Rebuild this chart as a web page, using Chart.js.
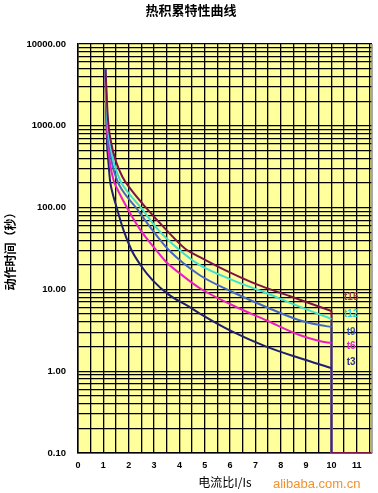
<!DOCTYPE html>
<html lang="zh">
<head>
  <meta charset="UTF-8">
  <title>热积累特性曲线</title>
  <script src="https://cdn.jsdelivr.net/npm/chart.js"></script>
  <style>
    html, body { margin: 0; padding: 0; background: #fff; }
    #wrap { width: 378px; height: 493px; position: relative; }
  </style>
</head>
<body>
  <div id="wrap"><canvas id="myChart"></canvas></div>

  <script>
    // curve names (trip classes)
    const curveNames = ['t15', 't12', 't9', 't6', 't3'];

    const t15X = [1.085, 1.176, 1.31, 1.507, 1.755, 2.071, 2.69, 3.491, 4.241, 4.793, 5.70, 7.03, 8.343, 10];
    const t15Y = [4900, 1282, 617, 361, 237, 169, 99, 53, 31.2, 24.9, 17.8, 11.6, 8.31, 5.45];

    const t12X = [1.085, 1.156, 1.262, 1.42, 1.657, 1.901, 2.493, 3.176, 4.004, 4.793, 6.095, 7.424, 8.738, 10];
    const t12Y = [4900, 1282, 617, 351, 217, 164, 99, 53, 30.3, 19.9, 13.0, 9.04, 6.15, 4.35];

    const t9X = [1.085, 1.144, 1.223, 1.341, 1.538, 1.744, 2.296, 2.939, 3.582, 4.793, 6.095, 7.424, 8.738, 9.527, 10];
    const t9Y = [4900, 1282, 617, 351, 217, 164, 99, 53, 30.3, 15.0, 9.3, 6.1, 4.2, 3.67, 3.47];

    const t6X = [1.085, 1.124, 1.183, 1.262, 1.40, 1.57, 1.941, 2.465, 3.085, 3.479, 4.004, 4.793, 6.095, 7.424, 8.738, 9.527, 10];
    const t6Y = [4900, 1282, 617, 351, 217, 164, 99, 53, 30.3, 21.6, 15.8, 10.4, 6.4, 4.2, 2.77, 2.34, 2.21];

    const t3X = [1.085, 1.116, 1.144, 1.203, 1.262, 1.333, 1.531, 1.795, 2.11, 2.465, 2.939, 3.61, 4.398, 4.793, 6.095, 7.424, 8.738, 10];
    const t3Y = [4900, 1282, 617, 351, 217, 164, 99, 53, 30.3, 19.9, 13.0, 8.5, 6.1, 5.1, 3.04, 2.0, 1.45, 1.09];

    const curveColors = ['#7d1248', '#3ee0d2', '#4568c8', '#ea1ec8', '#1e1e72'];
    const labelColors = ['#9a4040', '#33cccc', '#3858b8', '#dd22cc', '#333388'];
    // where the tN tags sit (value on the axes)
    const tagX = 10.78;
    const tagY = [8.1, 4.9, 2.96, 2.0, 1.27];

    // axes
    const xMin = 0, xMax = 11.6, xGridStep = 0.5;
    const xTickLabels = [0, 1, 2, 3, 4, 5, 6, 7, 8, 9, 10, 11];
    const yDecades = [0.1, 1, 10, 100, 1000, 10000];
    const cutoffX = 10;      // instantaneous trip
    const floorY = 0.1;

    const xs = [t15X, t12X, t9X, t6X, t3X];
    const ys = [t15Y, t12Y, t9Y, t6Y, t3Y];

    const datasets = [];
    curveNames.forEach((name, i) => {
      datasets.push({
        label: name,
        data: xs[i].map((x, k) => ({ x: x, y: ys[i][k] })),
        borderColor: curveColors[i],
        borderWidth: 2,
        pointRadius: 0,
        cubicInterpolationMode: 'monotone',
        fill: false
      });
    });
    curveNames.forEach((name, i) => {
      const last = ys[i][ys[i].length - 1];
      datasets.push({
        label: name + ' drop',
        data: [{ x: cutoffX, y: last }, { x: cutoffX, y: floorY }, { x: xMax, y: floorY }],
        borderColor: curveColors[i],
        borderWidth: 2,
        pointRadius: 0,
        tension: 0,
        fill: false
      });
    });

    const yGrid = [];
    yDecades.forEach(d => {
      for (let m = 1; m <= 9; m++) {
        const v = +(d * m).toPrecision(3);
        if (v <= yDecades[yDecades.length - 1]) yGrid.push(v);
      }
    });

    const paper = {
      id: 'paper',
      beforeDraw(chart) {
        const { ctx, chartArea: a } = chart;
        ctx.save();
        ctx.fillStyle = '#ffff9c';
        ctx.fillRect(a.left, a.top, a.right - a.left, a.bottom - a.top);
        ctx.restore();
      },
      afterDraw(chart) {
        const { ctx, chartArea: a, scales } = chart;
        ctx.save();
        ctx.strokeStyle = '#8c8c8c';
        ctx.lineWidth = 1.5;
        ctx.beginPath();
        ctx.moveTo(a.right, a.top);
        ctx.lineTo(a.right, a.bottom);
        ctx.stroke();

        ctx.font = 'bold 10px "Liberation Sans", Arial, sans-serif';
        ctx.textAlign = 'center';
        ctx.textBaseline = 'middle';
        curveNames.forEach((name, i) => {
          ctx.fillStyle = labelColors[i];
          ctx.fillText(name, scales.x.getPixelForValue(tagX), scales.y.getPixelForValue(tagY[i]));
        });

        ctx.font = '13px "Liberation Sans", Arial, sans-serif';
        ctx.textAlign = 'left';
        ctx.fillStyle = '#f0922e';
        ctx.fillText('alibaba.com.cn', 273, 484);

        ctx.font = 'bold 13px "Noto Sans CJK SC", sans-serif';
        ctx.textAlign = 'center';
        ctx.fillStyle = '#000';
        ctx.fillText('热积累特性曲线', 191, 10);
        ctx.restore();
      }
    };

    new Chart(document.getElementById('myChart'), {
      type: 'line',
      data: { datasets: datasets },
      plugins: [paper],
      options: {
        responsive: true,
        maintainAspectRatio: false,
        animation: false,
        layout: { padding: { top: 44, right: 6, left: 0, bottom: 0 } },
        plugins: {
          legend: { display: false },
          tooltip: { enabled: false },
          title: { display: false }
        },
        scales: {
          x: {
            type: 'linear',
            min: xMin,
            max: xMax,
            afterBuildTicks(scale) {
              const t = [];
              for (let v = xMin; v < xMax; v += xGridStep) t.push({ value: v });
              scale.ticks = t;
            },
            afterFit(scale) { scale.height = 40; },
            grid: { color: '#000', lineWidth: 1.3, drawTicks: false },
            border: { color: '#000', width: 1.5 },
            ticks: {
              padding: 7,
              autoSkip: false,
              maxRotation: 0,
              color: '#000',
              font: { family: '"Liberation Sans", Arial, sans-serif', size: 9, weight: 'bold' },
              callback: v => xTickLabels.includes(v) ? String(v) : ''
            },
            title: {
              display: true,
              text: '电流比I/Is',
              color: '#000',
              font: { family: '"Noto Sans CJK SC", sans-serif', size: 12 },
              padding: { top: 0, bottom: 3 }
            }
          },
          y: {
            type: 'logarithmic',
            min: yDecades[0],
            max: yDecades[yDecades.length - 1],
            afterBuildTicks(scale) {
              scale.ticks = yGrid.map(v => ({ value: v }));
            },
            afterFit(scale) { scale.width = 78; },
            grid: { color: '#000', lineWidth: 1.3, drawTicks: false },
            border: { color: '#000', width: 1.5 },
            ticks: {
              padding: 12,
              autoSkip: false,
              color: '#000',
              font: { family: '"Liberation Sans", Arial, sans-serif', size: 9.5, weight: 'bold' },
              callback: v => yDecades.includes(v) ? v.toFixed(2) : ''
            },
            title: {
              display: true,
              text: '动作时间（秒）',
              color: '#000',
              font: { family: '"Noto Sans CJK SC", sans-serif', size: 12, weight: 'bold' },
              padding: { top: 3, bottom: 0 }
            }
          }
        }
      }
    });
  </script>
</body>
</html>
